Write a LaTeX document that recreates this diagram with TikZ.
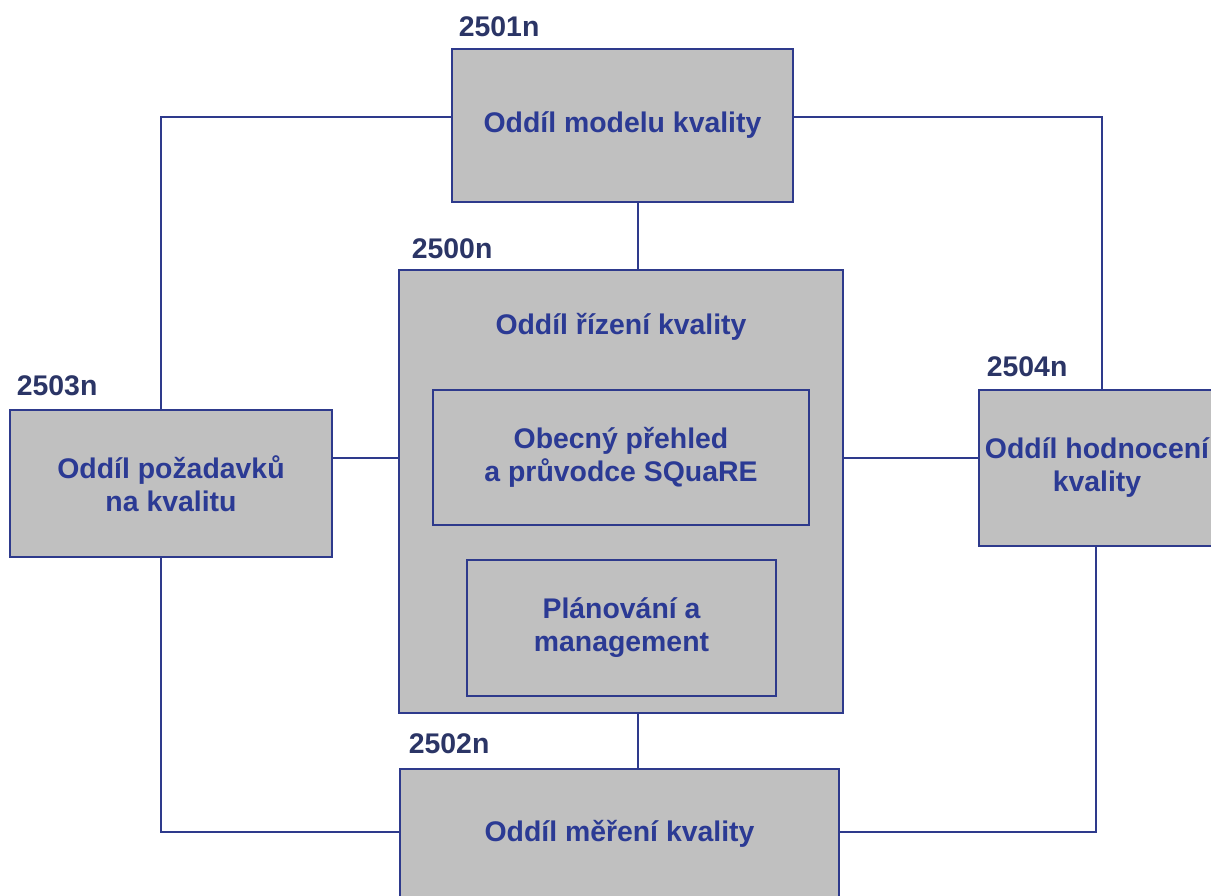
\documentclass[tikz,border=0pt]{standalone}
\usepackage{fontspec}
\setmainfont{Liberation Sans}
\usepackage{tikz}
\usetikzlibrary{positioning}
\usepackage{xcolor}

\definecolor{edgeblue}{HTML}{2E3A8C}
\definecolor{textblue}{HTML}{2B3A94}
\definecolor{tagblue}{HTML}{2B3566}
\definecolor{boxgray}{HTML}{C0C0C0}

\begin{document}
\begin{tikzpicture}[x=1pt,y=-1pt,font=\fontsize{28.4}{33}\selectfont\bfseries]
  \tikzstyle{box}=[draw=edgeblue,line width=2.7pt,fill=boxgray,text=textblue,align=center,inner sep=2pt]
  \tikzstyle{tag}=[text=tagblue,inner sep=0pt]
  \tikzstyle{link}=[draw=edgeblue,line width=2.1pt]

  \useasboundingbox (0,0) rectangle (1211,895);
  \clip (0,0) rectangle (1211,895);

  \node[box,minimum width=341pt,minimum height=153pt] (model)    at (622.5,125.5) {Oddíl modelu kvality};
  \node[box,minimum width=444pt,minimum height=443pt] (mgmt)     at (621,491.5)   {};
  \node[text=textblue]                                (mgmt_t)   at (621,327)     {Oddíl řízení kvality};
  \node[box,minimum width=376pt,minimum height=135pt] (overview) at (621,457.5)   {Obecný přehled\\a průvodce SQuaRE};
  \node[box,minimum width=309pt,minimum height=136pt] (plan)     at (621.5,628)   {Plánování a\\management};
  \node[box,minimum width=322pt,minimum height=147pt] (req)      at (171,483.5)   {Oddíl požadavků\\na kvalitu};
  \node[box,minimum width=236pt,minimum height=156pt] (eval)     at (1097,468)    {Oddíl hodnocení\\kvality};
  \node[box,minimum width=439pt,minimum height=130pt] (measure)  at (619.5,834)   {Oddíl měření kvality};

  \node[tag] (t_model)   [above right=11pt and 8pt of model.north west]   {2501n};
  \node[tag] (t_mgmt)    [above right=10pt and 14pt of mgmt.north west]   {2500n};
  \node[tag] (t_req)     [above right=13pt and 8pt of req.north west]     {2503n};
  \node[tag] (t_eval)    [above right=12pt and 9pt of eval.north west]    {2504n};
  \node[tag] (t_measure) [above right=14pt and 10pt of measure.north west] {2502n};

  \coordinate (vx) at (638,0);
  \coordinate (hy) at (0,458);
  \coordinate (nw) at (161,117);
  \coordinate (ne) at (1102,117);
  \coordinate (sw) at (161,832);
  \coordinate (se) at (1096,832);

  \path[link]
  (model.south -| vx) -- (mgmt.north -| vx)
  (mgmt.south -| vx)  -- (measure.north -| vx)
  (req.east |- hy)    -- (mgmt.west |- hy)
  (mgmt.east |- hy)   -- (eval.west |- hy)
  (model.west |- nw)  -- (nw) -- (req.north -| nw)
  (model.east |- ne)  -- (ne) -- (eval.north -| ne)
  (req.south -| sw)   -- (sw) -- (measure.west |- sw)
  (eval.south -| se)  -- (se) -- (measure.east |- se)
  ;
\end{tikzpicture}
\end{document}
